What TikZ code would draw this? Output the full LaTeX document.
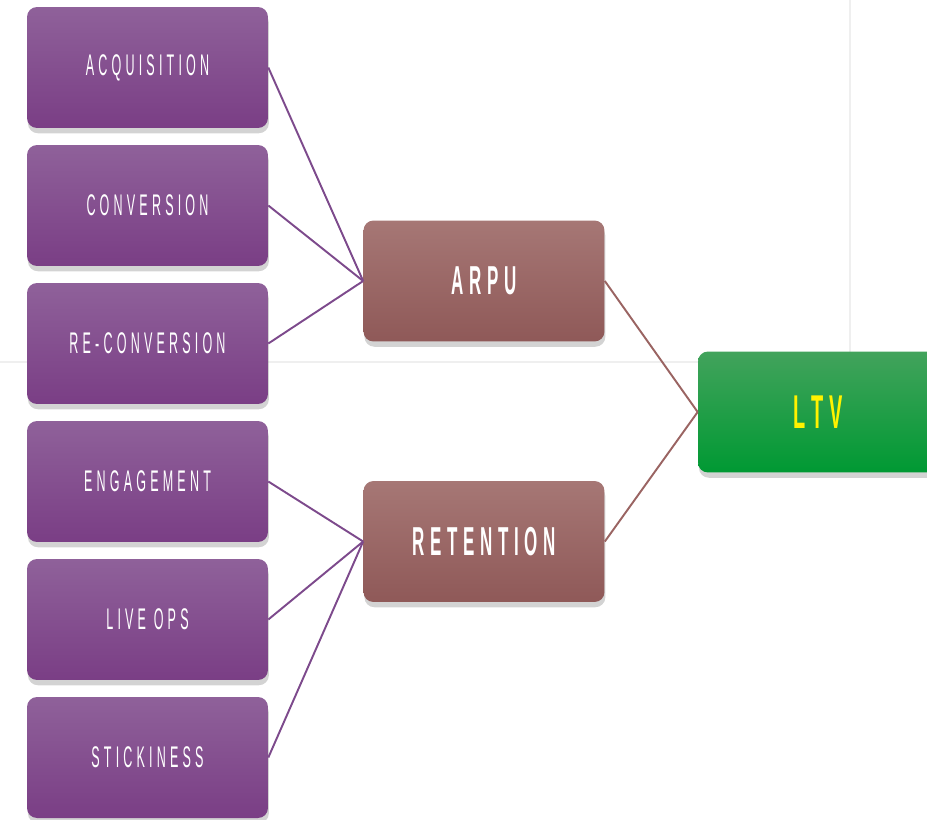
\documentclass[tikz,border=0pt]{standalone}
\usepackage{fontspec}
\newfontfamily\boxfont{Liberation Sans}[FakeStretch=0.42,LetterSpace=14]
\usetikzlibrary{shadows}

\definecolor{purpletop}{HTML}{8F619A}
\definecolor{purplebot}{HTML}{7A3E85}
\definecolor{browntop}{HTML}{A67775}
\definecolor{brownbot}{HTML}{8F5958}
\definecolor{greentop}{HTML}{42A35C}
\definecolor{greenbot}{HTML}{009933}
\definecolor{purpleline}{HTML}{7D4A8C}
\definecolor{brownline}{HTML}{9A6462}
\definecolor{pageedge}{HTML}{EFEFEF}

\tikzset{
  metricbox/.style={rounded corners=0.2cm, minimum width=4.82cm, minimum height=2.42cm,
    inner sep=0pt, text=white, drop shadow={opacity=0.35, shadow xshift=0.5pt, shadow yshift=-3pt}},
  purplebox/.style={metricbox, top color=purpletop, bottom color=purplebot,
    font=\boxfont\fontsize{17}{19}\selectfont},
  brownbox/.style={metricbox, top color=browntop, bottom color=brownbot,
    font=\boxfont\bfseries\fontsize{23}{25}\selectfont},
  greenbox/.style={metricbox, top color=greentop, bottom color=greenbot, text=yellow,
    font=\boxfont\bfseries\fontsize{27}{29}\selectfont},
  purplelink/.style={purpleline, line width=1.1pt},
  brownlink/.style={brownline, line width=1.1pt}
}

\begin{document}
\begin{tikzpicture}[x=0.02cm, y=-0.02cm]

  \useasboundingbox (0,0) rectangle (927,819);
  \clip (0,0) rectangle (927,819);

  % page edge behind the chart
  \draw[pageedge, line width=1.5pt] (0,362) -- (850,362) -- (850,0);

  % drivers
  \node[purplebox] (acq)    at (147.5, 67.5) {ACQUISITION};
  \node[purplebox] (conv)   at (147.5,205.5) {CONVERSION};
  \node[purplebox] (reconv) at (147.5,343.5) {RE-CONVERSION};
  \node[purplebox] (engage) at (147.5,481.5) {ENGAGEMENT};
  \node[purplebox] (liveops) at (147.5,619.5) {LIVE OPS};
  \node[purplebox] (sticky) at (147.5,757.5) {STICKINESS};

  % middle level
  \node[brownbox] (arpu)      at (484,281)   {ARPU};
  \node[brownbox] (retention) at (484,541.5) {RETENTION};

  % result
  \node[greenbox] (ltv) at (818.5,412) {LTV};

  % links
  \foreach \src in {acq,conv,reconv}
    \draw[purplelink] (\src.east) -- (arpu.west);
  \foreach \src in {engage,liveops,sticky}
    \draw[purplelink] (\src.east) -- (retention.west);
  \draw[brownlink] (arpu.east) -- (ltv.west);
  \draw[brownlink] (retention.east) -- (ltv.west);

\end{tikzpicture}
\end{document}
